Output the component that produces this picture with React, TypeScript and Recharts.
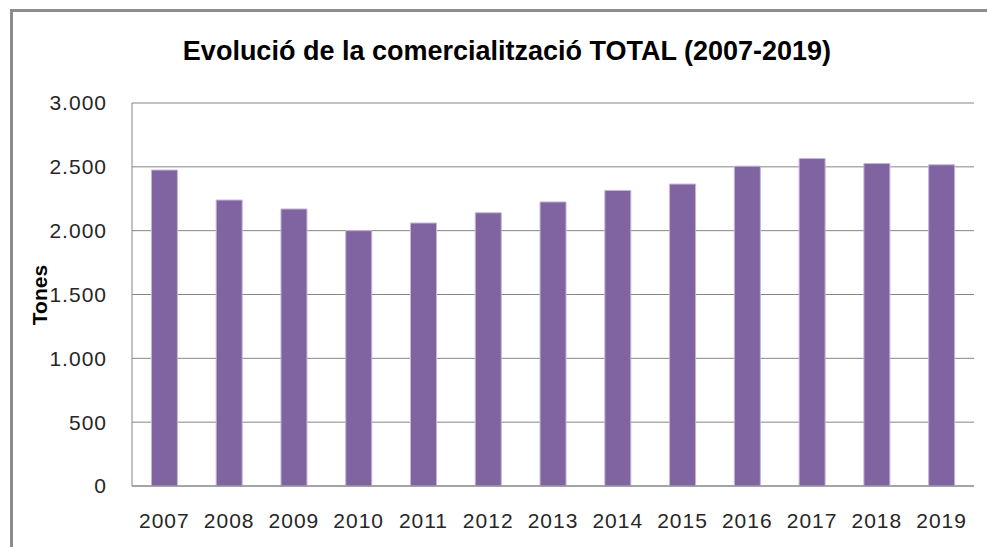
import { BarChart, Bar, XAxis, YAxis, CartesianGrid } from 'recharts'

const years = ['2007', '2008', '2009', '2010', '2011', '2012', '2013', '2014', '2015', '2016', '2017', '2018', '2019']
const tones = [2475, 2240, 2170, 2000, 2060, 2140, 2225, 2315, 2365, 2505, 2565, 2526, 2516]
const yTicks = [0, 500, 1000, 1500, 2000, 2500, 3000]

const data = years.map((year, i) => ({ year, tones: tones[i] }))

const fmt = (v: number) => v.toString().replace(/\B(?=(\d{3})+(?!\d))/g, '.')

const font = '"Liberation Sans", Arial, sans-serif'
const tickStyle = { fontSize: 21, fill: '#262626', fontFamily: font, letterSpacing: 1 }

export default function App() {
  return (
    <div style={{ position: 'absolute', left: 0, top: 0, width: 987, height: 547, background: '#fff', fontFamily: font }}>
      <div
        style={{
          position: 'absolute', left: 10, top: 9, right: -4, bottom: -4,
          borderTop: '3px solid #8c8c8c', borderLeft: '3px solid #8c8c8c',
        }}
      />
      <div
        style={{
          position: 'absolute', left: 0, width: 1014, top: 36, textAlign: 'center',
          fontSize: 27, fontWeight: 'bold', color: '#000', whiteSpace: 'nowrap',
        }}
      >
        Evolució de la comercialització TOTAL (2007-2019)
      </div>
      <BarChart
        width={987}
        height={547}
        data={data}
        margin={{ top: 103, right: 13, bottom: 31, left: 0 }}
        barCategoryGap="30%"
        style={{ position: 'absolute', left: 0, top: 0 }}
      >
        <CartesianGrid vertical={false} stroke="#868686" />
        <XAxis
          dataKey="year"
          axisLine={{ stroke: '#868686' }}
          tickLine={false}
          tickSize={0}
          tickMargin={27}
          tick={tickStyle}
          interval={0}
        />
        <YAxis
          width={132}
          domain={[0, 3000]}
          ticks={yTicks}
          tickFormatter={fmt}
          axisLine={{ stroke: '#868686' }}
          tickLine={false}
          tickSize={0}
          tickMargin={25}
          tick={tickStyle}
        />
        <Bar dataKey="tones" fill="#8064A2" stroke="#c3b6d6" strokeWidth={1} isAnimationActive={false} />
      </BarChart>
      <div
        style={{
          position: 'absolute', left: 40, top: 295, transform: 'translate(-50%, -50%) rotate(-90deg)',
          fontSize: 21, fontWeight: 'bold', color: '#000',
        }}
      >
        Tones
      </div>
    </div>
  )
}
